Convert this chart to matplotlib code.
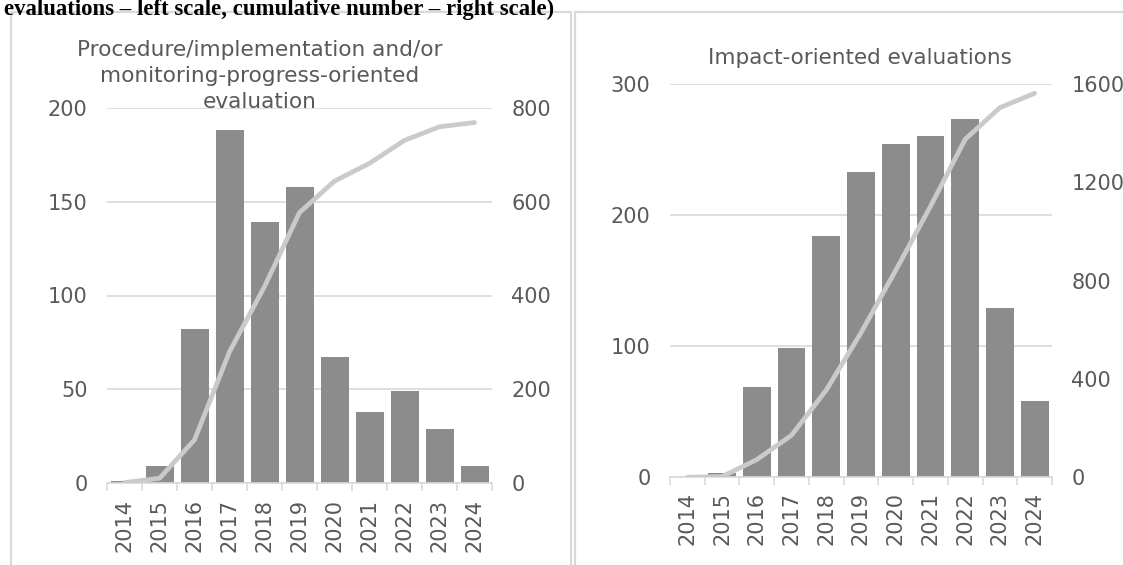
import matplotlib
matplotlib.use('Agg')
import matplotlib.pyplot as plt
from matplotlib.patches import Rectangle
import numpy as np

years = ['2014', '2015', '2016', '2017', '2018', '2019', '2020', '2021', '2022', '2023', '2024']
proc_counts = [1, 9, 82, 188, 139, 158, 67, 38, 49, 29, 9]
proc_cum = [1, 10, 92, 280, 419, 577, 644, 682, 731, 760, 769]
impact_counts = [0, 3, 69, 99, 184, 233, 254, 260, 273, 129, 58]
impact_cum = [0, 3, 72, 171, 355, 588, 842, 1102, 1375, 1504, 1562]
proc_title = ['Procedure/implementation and/or', 'monitoring-progress-oriented', 'evaluation']
impact_title = 'Impact-oriented evaluations'

bar_color = '#8c8c8c'
line_color = '#cacaca'
grid_color = '#d9d9d9'
text_color = '#595959'

plt.rcParams['font.family'] = 'DejaVu Sans'

W, H = 1123, 565
fig = plt.figure(figsize=(W / 100, H / 100), dpi=100)


def px(x0, y0, x1, y1):
    # pixel box (top-left origin) -> figure rect
    return [x0 / W, 1 - y1 / H, (x1 - x0) / W, (y1 - y0) / H]


def panel(rect, counts, cum, left_ticks, right_ticks, ymax, rmax, xpad):
    ax = fig.add_axes(rect)
    x = np.arange(len(years))
    ax.bar(x, counts, width=0.8, color=bar_color, zorder=2)
    ax.set_xlim(-0.5, len(years) - 0.5)
    ax.set_ylim(0, ymax)
    ax.set_yticks(left_ticks)
    ax.yaxis.grid(True, color=grid_color, linewidth=1.2, zorder=0)
    ax.set_axisbelow(True)
    for s in ['top', 'left', 'right']:
        ax.spines[s].set_visible(False)
    ax.spines['bottom'].set_color(grid_color)
    ax.spines['bottom'].set_linewidth(1.2)
    ax.set_xticks(x)
    ax.set_xticklabels(years, rotation=90)
    ax.set_xticks(np.arange(len(years) + 1) - 0.5, minor=True)
    ax.tick_params(axis='x', which='major', length=0, pad=xpad, labelsize=15, labelcolor=text_color)
    ax.tick_params(axis='x', which='minor', length=6, width=1.2, color=grid_color)
    ax.tick_params(axis='y', length=0, pad=14, labelsize=15, labelcolor=text_color)

    ax2 = ax.twinx()
    ax2.plot(x, cum, color=line_color, linewidth=3.4, solid_capstyle='round',
             solid_joinstyle='round', zorder=3)
    ax2.set_ylim(0, rmax)
    ax2.set_yticks(right_ticks)
    for s in ax2.spines.values():
        s.set_visible(False)
    ax2.tick_params(axis='y', length=0, pad=14, labelsize=15, labelcolor=text_color)
    return ax, ax2


panel(px(107, 108, 492, 483), proc_counts, proc_cum,
      [0, 50, 100, 150, 200], [0, 200, 400, 600, 800], 200, 800, 11.5)
panel(px(670, 84, 1052, 477.3), impact_counts, impact_cum,
      [0, 100, 200, 300], [0, 400, 800, 1200, 1600], 300, 1600, 10.5)

for i, line in enumerate(proc_title):
    fig.text(260 / W, 1 - (50 + 26 * i) / H, line,
             ha='center', va='center', fontsize=15.6, color=text_color)
fig.text(860 / W, 1 - 58 / H, impact_title,
         ha='center', va='center', fontsize=15.5, color=text_color)

# panel borders
for x0, x1 in [(11, 571.5), (574.5, 1140)]:
    fig.patches.append(Rectangle((x0 / W, -0.05), (x1 - x0) / W, 1.05 - 11.5 / H,
                                 transform=fig.transFigure, fill=False,
                                 edgecolor=grid_color, linewidth=1.6))

fig.text(4 / W, 1 - 15 / H,
         'evaluations \u2013 left scale, cumulative number \u2013 right scale)',
         ha='left', va='baseline', fontsize=16.4, fontweight='bold',
         family='Liberation Serif', color='black')

fig.savefig('out.png', dpi=100)
